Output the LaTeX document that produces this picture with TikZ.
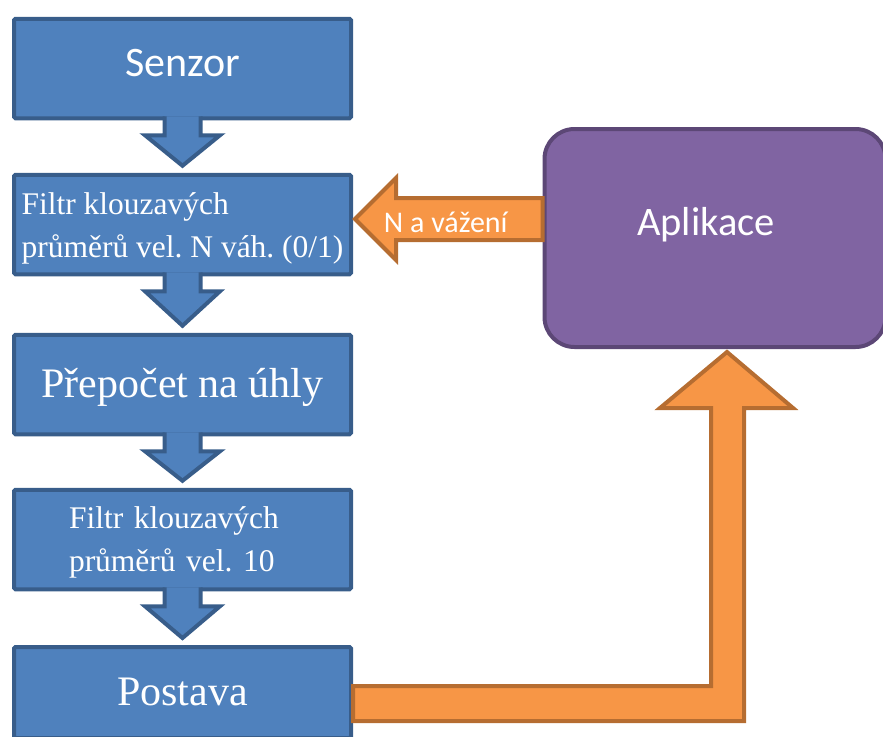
\documentclass[tikz,border=0pt]{standalone}
\usepackage{fontspec}
\setmainfont{Liberation Serif}
\newfontfamily\calib{Carlito}
\usetikzlibrary{calc}
\frenchspacing
\definecolor{boxblue}{HTML}{4F81BD}
\definecolor{boxblueline}{HTML}{385D8A}
\definecolor{arrorange}{HTML}{F79646}
\definecolor{arrorangeline}{HTML}{B66D31}
\definecolor{aplpurple}{HTML}{8064A2}
\definecolor{aplpurpleline}{HTML}{5C4776}

\begin{document}
\begin{tikzpicture}[x=1pt,y=-1pt,
  blok/.style={draw=boxblueline,fill=boxblue,line width=4pt,rounded corners=1.5pt,
    minimum width=337pt,minimum height=99.5pt,inner sep=0pt,text=white},
  blkarrow/.style={draw=boxblueline,fill=boxblue,line width=4pt},
  oarrow/.style={draw=arrorangeline,fill=arrorange,line width=4pt},
  serifbig/.style={font=\fontsize{42}{50}\selectfont,text height=31.5pt,text depth=6.3pt},
  serifsmall/.style={font=\fontsize{31.5}{43.5}\selectfont\frenchspacing,align=left},
  sanstext/.style={text=white,font=\calib\fontsize{#1}{#1}\selectfont}]
\useasboundingbox (0,0) rectangle (883,736);
\clip (0,0) rectangle (883,736);
\node[blok,font=\calib\fontsize{42}{50}\selectfont,text height=27.3pt,text depth=10.5pt] (senzor) at (182.5,68.5) {Senzor};
\node[blok,serifsmall,text height=72.5pt,text depth=6.5pt] (filtr1) at (182.5,224.5) {Filtr klouzavých\\průměrů vel. N váh. (0/1)};
\node[blok,serifbig] (prepocet) at (182.5,384.5) {Přepočet na úhly};
\node[blok,serifsmall,text width=227pt,text height=24pt,text depth=47pt] (filtr2) at (182.5,539.5) {Filtr klouzavých\\průměrů vel. 10};
\node[blok,serifbig,minimum height=91pt] (postava) at (182.5,692.5) {Postava};
\node[draw=aplpurpleline,fill=aplpurple,line width=4pt,rounded corners=30pt,
  minimum width=341pt,minimum height=218pt] (apl) at (715,238) {};
\node[sanstext=40.5,anchor=base] (apltext) at (706,235) {Aplikace};
\foreach \a/\b in {senzor/filtr1,filtr1/prepocet,prepocet/filtr2,filtr2/postava}
  \draw[blkarrow] ($(\a.south)+(-18,-4)$) -- ($(\a.south)+(-18,15)$) -- ($(\a.south)+(-37.5,15)$)
    -- ($(\b.north)+(0,-7)$) -- ($(\a.south)+(37.5,15)$) -- ($(\a.south)+(18,15)$) -- ($(\a.south)+(18,-4)$);
\coordinate (ntip) at ($(filtr1.east)+(2,-5.5)$);
\draw[oarrow] (ntip) -- ++(41,-41) -- ++(0,20) -- ($(apl.west|-ntip)+(0,-21)$) -- ++(0,42)
  -- ($(ntip)+(41,21)$) -- ++(0,20) -- cycle;
\path (ntip) -- (apl.west|-ntip) node[midway,anchor=base,xshift=-3pt,yshift=-13pt,sanstext=30] (nlbl) {N a vážení};
\coordinate (ptip) at ($(apl.south)+(12,3)$);
\coordinate (pstart) at ($(postava.east)+(0,-6.5)$);
\draw[oarrow] (pstart) -- ($(ptip|-pstart)+(-16,0)$) -- ($(ptip)+(-16,56)$) -- ($(ptip)+(-67,56)$)
  -- (ptip) -- ($(ptip)+(66,56)$) -- ($(ptip)+(17,56)$) -- ($(ptip|-pstart)+(17,35)$)
  -- ($(pstart)+(0,35)$) -- cycle;
\end{tikzpicture}
\end{document}
